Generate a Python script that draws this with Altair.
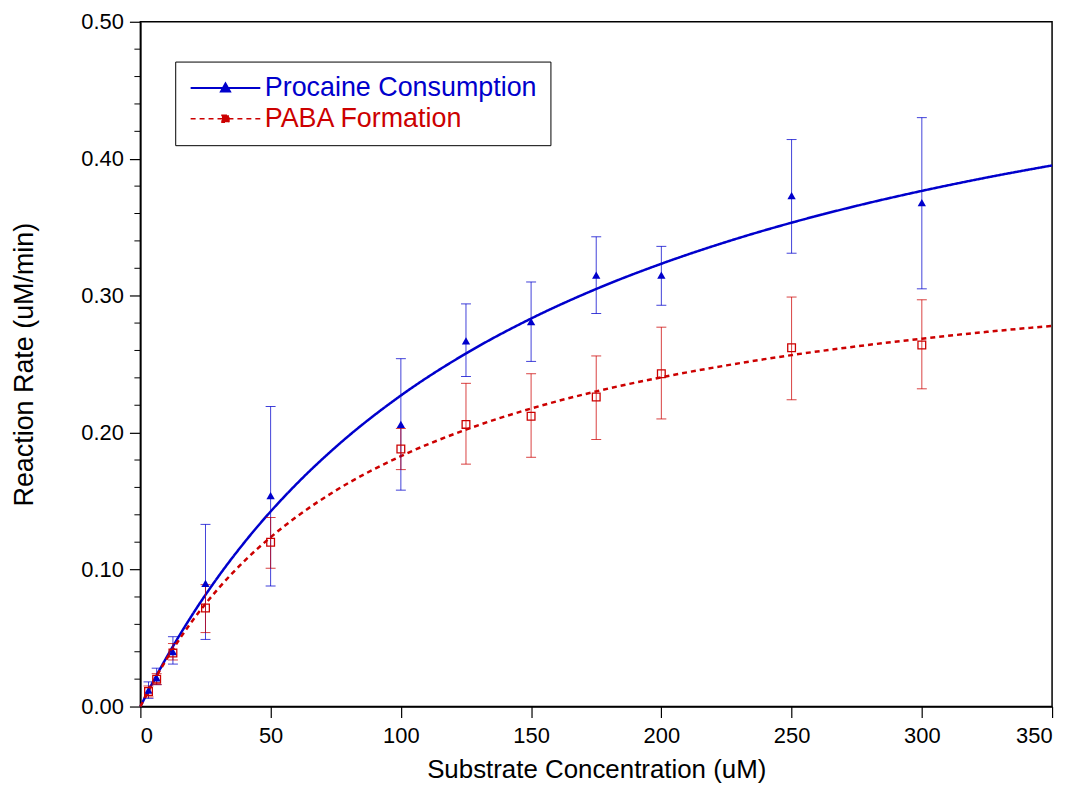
import altair as alt
import pandas as pd

# ---- data ----
conc = [3.125, 6.25, 12.5, 25, 50, 100, 125, 150, 175, 200, 250, 300]

procaine_rate = [0.012, 0.021, 0.040, 0.090, 0.154, 0.206, 0.267, 0.281, 0.315, 0.315, 0.373, 0.368]
procaine_lo = [0.006, 0.016, 0.031, 0.049, 0.088, 0.158, 0.241, 0.252, 0.287, 0.293, 0.331, 0.305]
procaine_hi = [0.018, 0.028, 0.051, 0.133, 0.219, 0.254, 0.294, 0.310, 0.343, 0.336, 0.414, 0.430]

paba_rate = [0.011, 0.020, 0.039, 0.072, 0.120, 0.188, 0.206, 0.212, 0.226, 0.243, 0.262, 0.264]
paba_lo = [0.007, 0.016, 0.034, 0.054, 0.101, 0.173, 0.177, 0.182, 0.195, 0.210, 0.224, 0.232]
paba_hi = [0.015, 0.024, 0.046, 0.089, 0.138, 0.203, 0.236, 0.243, 0.256, 0.277, 0.299, 0.297]

fit_x = [0, 5, 10, 20, 30, 40, 50, 60, 75, 100, 125, 150, 175, 200, 225, 250, 275, 300, 325, 350]
procaine_fit = [0, 0.0185, 0.0357, 0.0672, 0.0951, 0.1200, 0.1424, 0.1626, 0.1895, 0.2271,
                0.2578, 0.2833, 0.3049, 0.3233, 0.3393, 0.3533, 0.3656, 0.3765, 0.3863, 0.3951]
paba_fit = [0, 0.0181, 0.0344, 0.0627, 0.0863, 0.1064, 0.1236, 0.1386, 0.1577, 0.1828,
            0.2022, 0.2176, 0.2301, 0.2404, 0.2491, 0.2566, 0.2630, 0.2686, 0.2736, 0.2779]

series_names = ["Procaine Consumption", "PABA Formation"]
series_colors = ["#0000CC", "#CC0000"]

x_ticks = [0, 50, 100, 150, 200, 250, 300, 350]
y_ticks = [0.0, 0.1, 0.2, 0.3, 0.4, 0.5]
y_minor = [0.02, 0.04, 0.06, 0.08, 0.12, 0.14, 0.16, 0.18, 0.22, 0.24, 0.26, 0.28,
           0.32, 0.34, 0.36, 0.38, 0.42, 0.44, 0.46, 0.48]

FONT = "Liberation Sans"
Y_TITLE = "Reaction Rate (uM/min)"
X_TITLE = "Substrate Concentration (uM)"

pts = pd.DataFrame(
    [dict(x=c, y=r, lo=l, hi=h, s=series_names[0]) for c, r, l, h in zip(conc, procaine_rate, procaine_lo, procaine_hi)]
    + [dict(x=c, y=r, lo=l, hi=h, s=series_names[1]) for c, r, l, h in zip(conc, paba_rate, paba_lo, paba_hi)]
)
fits = pd.DataFrame(
    [dict(x=a, y=b, s=series_names[0]) for a, b in zip(fit_x, procaine_fit)]
    + [dict(x=a, y=b, s=series_names[1]) for a, b in zip(fit_x, paba_fit)]
)
minor_df = pd.DataFrame({"y": y_minor})

xscale = alt.Scale(domain=[0, 350], nice=False, zero=True)
yscale = alt.Scale(domain=[0, 0.5], nice=False)
cscale = alt.Scale(domain=series_names, range=series_colors)

y_axis = alt.Axis(values=y_ticks, format=".2f", tickSize=11, labelFontSize=22, labelFont=FONT,
                  titleFontSize=27, titleFont=FONT,
                  titleFontWeight="normal", titlePadding=43, labelPadding=6, grid=False,
                  domainColor="black", tickColor="black", labelColor="black",
                  titleColor="black", domainWidth=1.5, tickWidth=1.2)
x_axis = alt.Axis(values=x_ticks, tickSize=11, labelFontSize=22, labelFont=FONT,
                  titleFontSize=26, titleFont=FONT, titleFontWeight="normal", titlePadding=10, labelPadding=8,
                  grid=False, domainColor="black", tickColor="black", labelColor="black", titleColor="black",
                  domainWidth=1.5, tickWidth=1.2)

blue_path = "M-2.2,0L11.8,0M4.8,-0.9L5.7,0.7L3.9,0.7Z"
red_path = ("M-2.2,0L-1.2,0M-0.4,0L0.6,0M1.4,0L2.4,0M3.2,0L4.1,0"
            "M5.5,0L6.4,0M7.2,0L8.2,0M9.0,0L10.0,0M10.8,0L11.8,0"
            "M4.1,-0.7L5.5,-0.7L5.5,0.7L4.1,0.7Z")
is_red = "datum.value === 'PABA Formation'"

legend = alt.Legend(
    title=None, orient="none", legendX=35, legendY=40,
    strokeColor="black", fillColor="white", padding=13,
    labelFont=FONT, labelFontSize=27, labelOffset=50, labelLimit=500, rowPadding=3,
    symbolSize=100, symbolStrokeWidth=2, symbolType=blue_path,
)

# per-entry legend styling (symbol shape / label colour), added to the legend spec
legend_encode = {
    "symbols": {"update": {
        "shape": {"signal": f"{is_red} ? '{red_path}' : '{blue_path}'"},
        "fill": {"signal": f"{is_red} ? 'white' : '#0000CC'"},
        "stroke": {"signal": f"{is_red} ? '#CC0000' : '#0000CC'"},
        "strokeWidth": {"signal": f"{is_red} ? 1.5 : 2"},
    }},
    "labels": {"update": {
        "fill": {"signal": f"{is_red} ? '#CC0000' : '#0000CC'"},
    }},
}

lines = alt.Chart(fits).mark_line(strokeWidth=2.5, interpolate="monotone").encode(
    x=alt.X("x:Q", scale=xscale, axis=x_axis, title=X_TITLE),
    y=alt.Y("y:Q", scale=yscale, axis=y_axis, title=Y_TITLE),
    color=alt.Color("s:N", scale=cscale, legend=legend, sort=series_names),
    strokeDash=alt.StrokeDash("s:N", scale=alt.Scale(domain=series_names, range=[[1, 0], [5, 4]]), legend=None),
)

errbars = alt.Chart(pts).mark_errorbar(ticks={"size": 10}, thickness=1, opacity=0.75).encode(
    x=alt.X("x:Q", scale=xscale, title=X_TITLE),
    y=alt.Y("lo:Q", scale=yscale, title=Y_TITLE),
    y2="hi:Q",
    color=alt.Color("s:N", scale=cscale, legend=None),
)

tri = alt.Chart(pts[pts.s == series_names[0]]).mark_point(shape="triangle-up", filled=True, size=70, opacity=1).encode(
    x=alt.X("x:Q", scale=xscale, title=X_TITLE),
    y=alt.Y("y:Q", scale=yscale, title=Y_TITLE),
    color=alt.Color("s:N", scale=cscale, legend=None),
)
sq = alt.Chart(pts[pts.s == series_names[1]]).mark_point(shape="square", filled=False, size=60, strokeWidth=1.3, opacity=1).encode(
    x=alt.X("x:Q", scale=xscale, title=X_TITLE),
    y=alt.Y("y:Q", scale=yscale, title=Y_TITLE),
    color=alt.Color("s:N", scale=cscale, legend=None),
)

# minor ticks on the y axis (every 0.02), drawn through the y scale
minor = alt.Chart(minor_df).mark_rule(color="black", strokeWidth=1).encode(
    y=alt.Y("y:Q", scale=yscale, title=Y_TITLE),
    x=alt.value(-6),
    x2=alt.value(0),
)

chart = alt.layer(lines, errbars, tri, sq, minor).properties(
    width=916, height=688, padding={"left": 2, "top": 1, "right": 10, "bottom": 0}
).configure(background="white").configure_view(stroke="black", strokeWidth=1.5)


def _add_legend_encode(node):
    if isinstance(node, dict):
        lg = node.get("legend")
        if isinstance(lg, dict) and lg.get("orient") == "none":
            lg["encode"] = legend_encode
        for v in node.values():
            _add_legend_encode(v)
    elif isinstance(node, list):
        for v in node:
            _add_legend_encode(v)


class _LegendEncodedChart(alt.LayerChart):
    def to_dict(self, *args, **kwargs):
        d = super().to_dict(*args, **kwargs)
        _add_legend_encode(d)
        return d


object.__setattr__(chart, "__class__", _LegendEncodedChart)
chart.save("out.html", embed_options={"renderer": "svg", "actions": False})
